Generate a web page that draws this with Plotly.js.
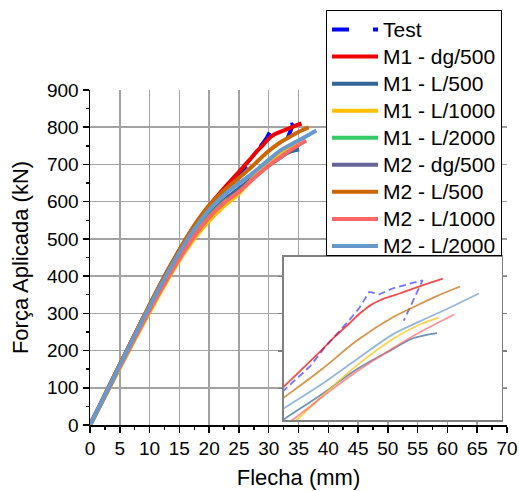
<!DOCTYPE html>
<html>
<head>
<meta charset="utf-8">
<script src="https://cdn.plot.ly/plotly-3.0.1.min.js"></script>
<style>
  html, body { margin: 0; padding: 0; background: #fff; }
  #chart { width: 519px; height: 491px; }
</style>
</head>
<body>
<div id="chart"></div>
<script>
// ---- Data (Flecha in mm, Força in kN) ----
const seriesNames = ['Test', 'M1 - dg/500', 'M1 - L/500', 'M1 - L/1000', 'M1 - L/2000',
                     'M2 - dg/500', 'M2 - L/500', 'M2 - L/1000', 'M2 - L/2000'];

const testX = [0, 2.5, 5, 7.5, 10, 12.5, 15, 17.5, 20, 22.5, 25, 26.3, 27.3, 28.9, 29.7, 30.4, 31.1, 32.1, 34.1, 32.8];
const testY = [0, 80, 160, 240, 319, 396, 467, 532, 586, 632, 674, 697, 721, 754, 772, 793, 790, 798, 808, 756];

const m1dgX = [0, 2.5, 5, 7.5, 10, 12.5, 15, 17.5, 20, 22.5, 25, 26, 27, 28, 29, 29.5, 30, 30.5, 31, 31.5, 32, 32.5, 33.4, 34.5, 35.5];
const m1dgY = [0, 81, 162, 243, 322, 399, 470, 535, 589, 636, 680, 698, 716, 735, 752, 761, 769, 776, 781, 785, 788, 791, 797, 804, 810];

const m1L500X = [0, 2.5, 5, 7.5, 10, 12.5, 15, 17.5, 20, 22.5, 24.5, 27.1, 29.6, 32.1, 33.4, 35.1];
const m1L500Y = [0, 78, 156, 233, 309, 382, 450, 511, 563, 603, 629, 661, 694, 720, 733, 740];

const m1L1000X = [0, 2.5, 5, 7.5, 10, 12.5, 15, 17.5, 20, 22.5, 25, 27.1, 29.6, 32.1, 33.9, 35.2];
const m1L1000Y = [0, 76, 153, 229, 303, 375, 442, 500, 548, 588, 622, 658, 699, 733, 751, 760];

const m1L2000X = [0, 2.5, 5, 7.5, 10, 12.5, 15, 17.5, 20, 23];
const m1L2000Y = [0, 78, 157, 235, 311, 385, 453, 512, 560, 606];

const m2dgX = [0, 2.5, 5, 7.5, 10, 12.5, 15, 17.5, 20, 23];
const m2dgY = [0, 80, 161, 241, 320, 396, 466, 529, 582, 624];

const m2L500X = [0, 2.5, 5, 7.5, 10, 12.5, 15, 17.5, 20, 22.5, 24.5, 27.1, 29.6, 32.1, 33.2, 35, 36.7];
const m2L500Y = [0, 81, 162, 243, 322, 399, 470, 536, 590, 630, 657, 693, 731, 761, 771, 787, 800];

const m2L1000X = [0, 2.5, 5, 7.5, 10, 12.5, 15, 17.5, 20, 22.5, 25, 27.1, 29.6, 32.1, 33.9, 36.3];
const m2L1000Y = [0, 78, 156, 233, 308, 380, 447, 507, 558, 597, 627, 657, 691, 721, 741, 764];

const m2L2000X = [0, 2.5, 5, 7.5, 10, 12.5, 15, 17.5, 20, 22.5, 24.5, 27.1, 29.6, 32.1, 33.9, 36, 38];
const m2L2000Y = [0, 80, 160, 240, 318, 393, 463, 526, 578, 618, 643, 674, 707, 739, 755, 773, 791];

const xTickVals = [0, 5, 10, 15, 20, 25, 30, 35, 40, 45, 50, 55, 60, 65, 70];
const xTickText = ['0', '5', '10', '15', '20', '25', '30', '35', '40', '45', '50', '55', '60', '65', '70'];
const yTickVals = [0, 100, 200, 300, 400, 500, 600, 700, 800, 900];
const yTickText = ['0', '100', '200', '300', '400', '500', '600', '700', '800', '900'];

const colors = ['#0000ff', '#ee0000', '#336699', '#ffc000', '#33cc66',
                '#666699', '#cc6600', '#ff6666', '#6699cc'];

const allX = [testX, m1dgX, m1L500X, m1L1000X, m1L2000X, m2dgX, m2L500X, m2L1000X, m2L2000X];
const allY = [testY, m1dgY, m1L500Y, m1L1000Y, m1L2000Y, m2dgY, m2L500Y, m2L1000Y, m2L2000Y];

const traces = [];
// main plot
for (let i = 0; i < seriesNames.length; i++) {
  const isTest = i === 0;
  traces.push({
    type: 'scatter', mode: 'lines',
    x: allX[i], y: allY[i],
    name: '<span style="font-size:21px">' + seriesNames[i] + '</span>',
    xaxis: 'x', yaxis: 'y',
    line: {color: colors[i], width: 4, dash: isTest ? '17px,24px' : 'solid',
           shape: isTest ? 'linear' : 'spline', smoothing: 1},
    hoverinfo: 'skip'
  });
}
// inset (zoom)
for (let i = 0; i < seriesNames.length; i++) {
  const isTest = i === 0;
  traces.push({
    type: 'scatter', mode: 'lines',
    x: allX[i], y: allY[i],
    name: seriesNames[i], showlegend: false,
    xaxis: 'x2', yaxis: 'y2',
    opacity: isTest ? 0.55 : 0.7,
    line: {color: colors[i], width: 1.8, dash: isTest ? '7px,4px' : 'solid',
           shape: isTest ? 'linear' : 'spline', smoothing: 1},
    hoverinfo: 'skip'
  });
}

const FONT = 'Arial, "Liberation Sans", sans-serif';

const layout = {
  width: 519, height: 491,
  margin: {l: 90, r: 12, t: 90, b: 66, pad: 0, autoexpand: false},
  paper_bgcolor: '#ffffff', plot_bgcolor: '#ffffff',
  font: {family: FONT, color: '#000000', size: 19},
  showlegend: true,
  xaxis: {
    domain: [0, 1], anchor: 'y', range: [0, 70],
    tickmode: 'array', tickvals: xTickVals, ticktext: xTickText, tickangle: 0,
    tickfont: {size: 19, color: '#000'},
    showgrid: true, gridcolor: '#a3a3a3', gridwidth: 1.5,
    zeroline: false, showline: true, linecolor: '#000', linewidth: 1.5,
    ticks: 'outside', ticklen: 6, tickwidth: 1.5, tickcolor: '#000',
    minor: {dtick: 2.5, tick0: 0, ticks: 'outside', ticklen: 3, tickwidth: 1.5, tickcolor: '#000', showgrid: false},
    title: {text: 'Flecha (mm)', font: {size: 22, color: '#000'}, standoff: 11}
  },
  yaxis: {
    domain: [0, 1], anchor: 'x', range: [0, 900],
    tickmode: 'array', tickvals: yTickVals, ticktext: yTickText,
    tickfont: {size: 19, color: '#000'},
    showgrid: true, gridcolor: '#a3a3a3', gridwidth: 1.5,
    zeroline: false, showline: true, linecolor: '#000', linewidth: 1.5,
    ticks: 'outside', ticklen: 6, tickwidth: 1.5, tickcolor: '#000',
    minor: {dtick: 50, tick0: 0, ticks: 'outside', ticklen: 3, tickwidth: 1.5, tickcolor: '#000', showgrid: false},
    title: {text: 'Força Aplicada (kN)', font: {size: 22, color: '#000'}, standoff: 12}
  },
  xaxis2: {
    domain: [0.4652, 0.988], anchor: 'y2', range: [24.5, 39.6],
    showgrid: false, zeroline: false, showline: true, mirror: true,
    linecolor: '#808080', linewidth: 1.5, ticks: '', showticklabels: false
  },
  yaxis2: {
    domain: [0.0149, 0.5015], anchor: 'x2', range: [628, 838],
    showgrid: false, zeroline: false, showline: true, mirror: 'ticks',
    linecolor: '#808080', linewidth: 1.5,
    ticks: 'outside', ticklen: 4, tickwidth: 1.2, tickcolor: '#808080',
    tickmode: 'linear', tick0: 669, dtick: 48, showticklabels: false
  },
  legend: {
    xref: 'container', yref: 'container',
    x: 326 / 519, y: 1 - 10 / 491, xanchor: 'left', yanchor: 'top',
    bgcolor: '#ffffff', bordercolor: '#000000', borderwidth: 1,
    font: {family: FONT, size: 18.5, color: '#000'},
    itemwidth: 46, tracegroupgap: 0
  }
};

Plotly.newPlot('chart', traces, layout, {staticPlot: true, displayModeBar: false});
</script>
</body>
</html>
